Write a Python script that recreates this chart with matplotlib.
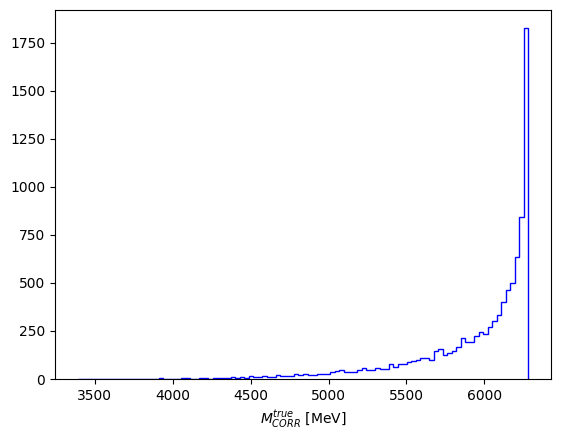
import numpy as np
import matplotlib
matplotlib.use("Agg")
import matplotlib.pyplot as plt

# Histogram range and bin count (MeV)
x_min = 3391.0
x_max = 6282.0
n_bins = 100

counts = [
    0, 0, 1, 0, 0, 1, 0, 0, 1, 1,
    0, 1, 1, 1, 0, 1, 1, 1, 4, 0,
    1, 0, 1, 4, 4, 1, 0, 4, 4, 0,
    4, 4, 4, 4, 8, 4, 8, 4, 14, 10,
    12, 17, 13, 13, 22, 15, 18, 18, 28, 20,
    27, 22, 21, 24, 25, 25, 35, 40, 45, 35,
    35, 35, 45, 55, 47, 47, 56, 52, 52, 76,
    62, 76, 77, 87, 92, 100, 108, 108, 99, 146,
    155, 123, 134, 144, 168, 212, 193, 193, 222, 247,
    236, 273, 304, 332, 399, 462, 498, 634, 845, 1830,
]

edges = np.linspace(x_min, x_max, n_bins + 1)
centers = 0.5 * (edges[:-1] + edges[1:])

fig = plt.figure(figsize=(5.61, 4.40), dpi=100)
ax = fig.add_axes([55/561, 1 - 379/440, (551 - 55)/561, (379 - 10)/440])
ax.hist(centers, bins=edges, weights=counts, histtype='step', color='blue')
ax.set_xlabel(r'$M_{CORR}^{true}$ [MeV]')
fig.savefig('out.png', dpi=100)
